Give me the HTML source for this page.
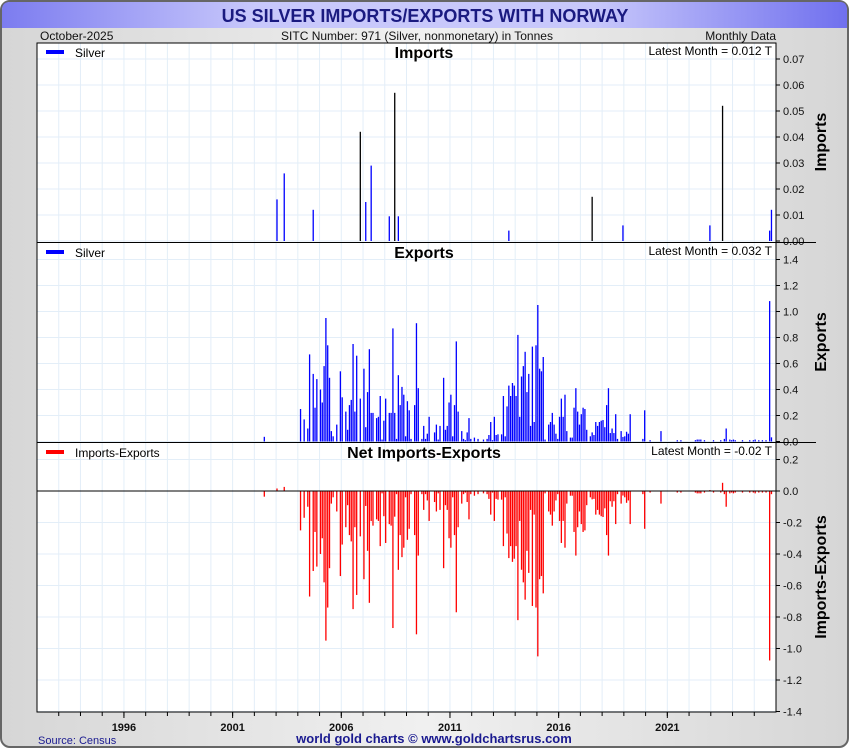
<!DOCTYPE html>
<html><head><meta charset="utf-8">
<style>
html,body{margin:0;padding:0;background:#fff;}
body{width:850px;height:750px;overflow:hidden;font-family:"Liberation Sans",sans-serif;}
</style></head>
<body>
<svg id="chart" width="850" height="750" xmlns="http://www.w3.org/2000/svg" font-family="Liberation Sans, sans-serif">
<defs>
<linearGradient id="tg" x1="0" x2="1" y1="0" y2="0">
<stop offset="0" stop-color="#7c7cf0"/><stop offset="0.3" stop-color="#c8c8fb"/><stop offset="0.7" stop-color="#c8c8fb"/><stop offset="1" stop-color="#7070ee"/>
</linearGradient>
<linearGradient id="bg" x1="0" x2="1" y1="0" y2="0">
<stop offset="0" stop-color="#d6d6d6"/><stop offset="0.5" stop-color="#f0f0f0"/><stop offset="1" stop-color="#d6d6d6"/>
</linearGradient>
</defs>
<rect x="1" y="1" width="847" height="746" rx="9" fill="url(#bg)" stroke="#666" stroke-width="2"/>
<path d="M2,28 L2,10 Q2,2 10,2 L840,2 Q847,2 847,10 L847,28 Z" fill="url(#tg)"/>
<text x="425" y="22" text-anchor="middle" font-size="18" font-weight="bold" fill="#1a1a80">US SILVER IMPORTS/EXPORTS WITH NORWAY</text>
<text x="40" y="40" font-size="12" fill="#111">October-2025</text>
<text x="417" y="40" text-anchor="middle" font-size="12" fill="#111">SITC Number: 971 (Silver, nonmonetary) in Tonnes</text>
<text x="776" y="40" text-anchor="end" font-size="12" fill="#111">Monthly Data</text>
<rect x="37" y="43" width="739" height="669" fill="#fff"/>
<g id="grid"></g>
<g id="marks"></g>
<g id="axes"></g>
<rect x="37" y="43" width="739" height="669" fill="none" stroke="#000" stroke-width="1"/>
<text x="38" y="744" font-size="11" fill="#1a1a90">Source: Census</text>
<text x="434" y="743" text-anchor="middle" font-size="13" font-weight="bold" fill="#1a1a90">world gold charts © www.goldchartsrus.com</text>
</svg>
<script>
// Month index = months since Jan 1992
const importMonths = [132,136,152,178,181,184,194,197,199,260,306,323,371,378,404,405];
const importValues = [0.016,0.026,0.012,0.042,0.015,0.029,0.0095,0.057,0.0095,0.004,0.017,0.006,0.006,0.052,0.004,0.012];
const exportMonths = [125,145,147,149,150,152,153,154,156,157,158,159,160,161,162,163,165,167,168,170,171,172,173,174,175,176,178,180,181,182,183,184,185,187,188,189,190,191,192,194,195,196,197,198,199,200,201,202,203,204,205,206,208,209,210,212,213,214,215,216,219,220,221,222,224,225,226,227,228,229,230,231,232,234,235,236,237,238,239,241,243,246,248,249,250,251,252,253,254,256,257,258,259,260,261,262,263,264,265,266,267,268,269,270,271,272,273,274,275,276,277,278,279,280,282,283,284,285,286,287,288,289,290,291,292,294,295,296,297,298,299,300,301,302,303,305,306,307,308,309,310,311,312,313,314,315,316,317,318,319,320,322,323,324,325,326,327,334,335,338,344,353,355,363,364,365,366,368,373,377,379,380,382,383,384,385,389,393,395,396,398,400,402,404,405];
const exportValues = [0.036,0.25,0.17,0.10,0.67,0.52,0.26,0.48,0.40,0.30,0.58,0.95,0.74,0.49,0.08,0.04,0.13,0.54,0.34,0.23,0.09,0.28,0.32,0.75,0.23,0.66,0.33,0.56,0.11,0.38,0.71,0.22,0.22,0.18,0.19,0.35,0.015,0.16,0.33,0.22,0.22,0.87,0.22,0.02,0.51,0.28,0.42,0.36,0.04,0.31,0.24,0.02,0.28,0.91,0.41,0.02,0.12,0.02,0.06,0.19,0.07,0.13,0.015,0.12,0.49,0.09,0.12,0.30,0.36,0.04,0.28,0.77,0.23,0.08,0.02,0.01,0.07,0.18,0.02,0.03,0.02,0.015,0.02,0.05,0.15,0.01,0.19,0.05,0.055,0.055,0.35,0.04,0.27,0.43,0.35,0.45,0.43,0.35,0.82,0.19,0.50,0.58,0.69,0.38,0.52,0.12,0.73,0.15,0.74,1.05,0.56,0.54,0.65,0.015,0.13,0.15,0.22,0.13,0.06,0.02,0.19,0.33,0.19,0.36,0.08,0.03,0.03,0.26,0.41,0.23,0.13,0.21,0.26,0.25,0.09,0.04,0.07,0.05,0.15,0.12,0.15,0.16,0.165,0.11,0.28,0.41,0.065,0.10,0.065,0.21,0.02,0.08,0.035,0.04,0.075,0.06,0.21,0.02,0.24,0.01,0.08,0.01,0.01,0.01,0.015,0.015,0.015,0.01,0.01,0.01,0.02,0.10,0.015,0.01,0.015,0.01,0.01,0.01,0.01,0.015,0.01,0.01,0.01,1.08,0.032];
const yearLabels = ["1996","2001","2006","2011","2016","2021"];
const importTicks = [0,0.01,0.02,0.03,0.04,0.05,0.06,0.07];
const exportTicks = [0,0.2,0.4,0.6,0.8,1.0,1.2,1.4];
const netTicks = [0.2,0,-0.2,-0.4,-0.6,-0.8,-1.0,-1.2,-1.4];

const NS="http://www.w3.org/2000/svg";
const X0=37, X1=776, START_YEAR=1992, END_YEAR=2026;
const xYear = y => X0 + (y-START_YEAR)*(X1-X0)/(END_YEAR-START_YEAR);
const xMonth = m => xYear(START_YEAR + (m+0.5)/12);
const yImp = v => 241 - v*(182/0.07);
const yExp = v => 441.5 - v*(182/1.4);
const yNet = v => 491 - v*157.5;

function mk(tag, attrs, parent){const e=document.createElementNS(NS,tag);for(const k in attrs)e.setAttribute(k,attrs[k]);parent.appendChild(e);return e;}
const grid=document.getElementById('grid'), marks=document.getElementById('marks'), axes=document.getElementById('axes');

// vertical gridlines per year
for(let y=START_YEAR+1;y<END_YEAR;y++){
  const l=mk('line',{x1:xYear(y),x2:xYear(y),y1:43,y2:712,stroke:'#e3eef8','stroke-width':1},grid);
  
  
}
function hTicks(ticks, yf, name){
  ticks.forEach(t=>{
    const y=yf(t);
    const g=mk('line',{x1:X0,x2:X1,y1:y,y2:y,stroke:'#e3eef8','stroke-width':1},grid);
    
    
    mk('line',{x1:X1,x2:X1+4,y1:y,y2:y,stroke:'#000'},axes);
    const tx=mk('text',{x:X1+7,y:y+4,'font-size':11,fill:'#111'},axes);
    tx.textContent = (name==='imports') ? t.toFixed(2) : t.toFixed(1);
    
    
  });
}
hTicks(importTicks,yImp,'imports');
hTicks(exportTicks,yExp,'exports');
hTicks(netTicks,yNet,'net');

// panel separators and zero line
[242.5,442.5].forEach(y=>{
  const l=mk('line',{x1:X0,x2:X1+40,y1:y,y2:y,stroke:'#000'},axes);
  
  
});
const zl=mk('line',{x1:X0,x2:X1,y1:yNet(0),y2:yNet(0),stroke:'#000'},axes);



// bars
const BW=1.3;
importMonths.forEach((m,i)=>{
  const v=importValues[i], y=yImp(v);
  const r=mk('rect',{x:xMonth(m)-BW/2,y:y,width:BW,height:Math.max(0.5,yImp(0)-y),fill:(m===178||m===197||m===306||m===378)?'#000':'#0000ff'},marks);
  
  
});
exportMonths.forEach((m,i)=>{
  const v=exportValues[i], y=yExp(v);
  const r=mk('rect',{x:xMonth(m)-BW/2,y:y,width:BW,height:Math.max(0.5,yExp(0)-y),fill:'#0000ff'},marks);
  
  
});
// net = imports - exports
const netMap={};
importMonths.forEach((m,i)=>{netMap[m]=(netMap[m]||0)+importValues[i];});
exportMonths.forEach((m,i)=>{netMap[m]=(netMap[m]||0)-exportValues[i];});
Object.keys(netMap).forEach(k=>{
  const m=+k, v=netMap[k], y0=yNet(0), y=yNet(v);
  const r=mk('rect',{x:xMonth(m)-BW/2,y:Math.min(y,y0),width:BW,height:Math.max(0.5,Math.abs(y-y0)),fill:'#ff0000'},marks);
  
  
});

// x axis ticks
for(let y=START_YEAR+1;y<END_YEAR;y++){
  const x=xYear(y);
  mk('line',{x1:x,x2:x,y1:712,y2:716,stroke:'#000'},axes);
}
yearLabels.forEach(lbl=>{
  const x=xYear(+lbl);
  mk('line',{x1:x,x2:x,y1:712,y2:718,stroke:'#000'},axes);
  const t=mk('text',{x:x,y:731,'text-anchor':'middle','font-size':11,'font-weight':'bold',fill:'#111'},axes);
  t.textContent=lbl;
  
  
});

// panel titles, legends, axis titles
function panelText(name,x,y,txt,opts){const t=mk('text',Object.assign({x:x,y:y,fill:'#000'},opts),axes);t.textContent=txt;return t;}
const panels=[
 {top:43,title:'Imports',leg:'Silver',col:'#0000ff',latest:'Latest Month = 0.012 T',axis:'Imports',ay:142},
 {top:243,title:'Exports',leg:'Silver',col:'#0000ff',latest:'Latest Month = 0.032 T',axis:'Exports',ay:342},
 {top:443,title:'Net Imports-Exports',leg:'Imports-Exports',col:'#ff0000',latest:'Latest Month = -0.02 T',axis:'Imports-Exports',ay:577}
];
panels.forEach(p=>{
  const l=mk('rect',{x:46,y:p.top+7,width:18,height:4,fill:p.col},axes);
  
  
  panelText('legend-label',75,p.top+14,p.leg,{'font-size':12});
  panelText('panel-title',424,p.top+15,p.title,{'text-anchor':'middle','font-size':16,'font-weight':'bold'});
  panelText('latest-month-label',772,p.top+12,p.latest,{'text-anchor':'end','font-size':12});
  panelText('y-axis-title',826,p.ay,p.axis,{'text-anchor':'middle','font-size':16,'font-weight':'bold',transform:'rotate(-90 826 '+p.ay+')'});
});
</script>
</body></html>
